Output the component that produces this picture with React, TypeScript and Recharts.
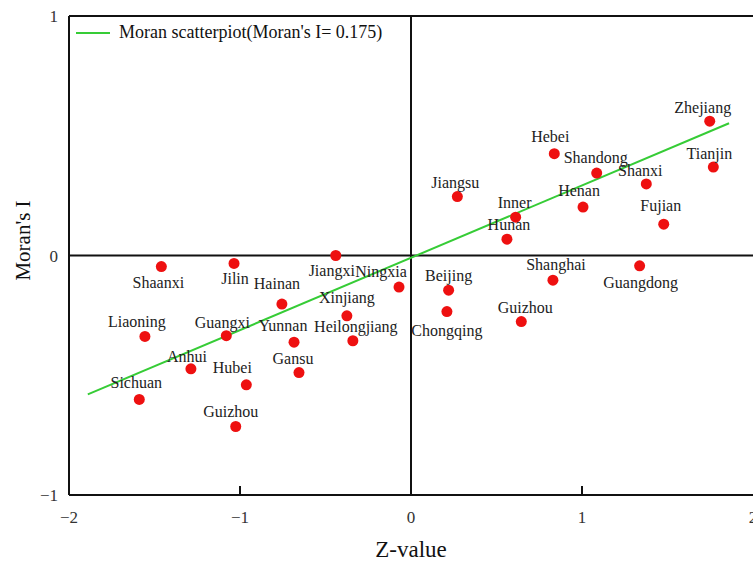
import React from "react";
import {
  ScatterChart,
  Scatter,
  XAxis,
  YAxis,
  ReferenceLine,
  Legend,
} from "recharts";

const PROVINCES = [
  "Shaanxi", "Jilin", "Jiangxi", "Ningxia", "Hainan", "Xinjiang", "Liaoning",
  "Guangxi", "Yunnan", "Heilongjiang", "Anhui", "Hubei", "Gansu", "Sichuan",
  "Guizhou", "Beijing", "Chongqing", "Guizhou", "Shanghai", "Guangdong",
  "Zhejiang", "Tianjin", "Hebei", "Shandong", "Shanxi", "Jiangsu", "Henan",
  "Fujian", "Inner", "Hunan",
];

const Z_VALUES = [
  -1.46, -1.035, -0.44, -0.07, -0.755, -0.375, -1.556,
  -1.08, -0.684, -0.34, -1.287, -0.963, -0.655, -1.589,
  -1.025, 0.22, 0.21, 0.645, 0.83, 1.337,
  1.747, 1.768, 0.838, 1.086, 1.376, 0.271, 1.006,
  1.478, 0.612, 0.561,
];

const LAG_VALUES = [
  -0.046, -0.033, 0.0, -0.132, -0.203, -0.252, -0.338,
  -0.335, -0.362, -0.356, -0.473, -0.54, -0.489, -0.601,
  -0.714, -0.145, -0.234, -0.276, -0.103, -0.043,
  0.561, 0.369, 0.425, 0.344, 0.299, 0.246, 0.202,
  0.131, 0.16, 0.068,
];

// fitted line end points
const FIT_X = [-1.89, 1.86];
const FIT_Y = [-0.58, 0.552];

const X_TICKS = [-2, -1, 0, 1, 2];
const Y_TICKS = [-1, 0, 1];

const LEGEND_LABEL = "Moran scatterpiot(Moran's I= 0.175)";

// label placement (pixels from the dot to the text centre), same order as PROVINCES
const LABEL_DX = [
  -3, 1, -4, -18, -5, 0, -8, -4, -11, 3, -4, -14, -6, -3, -5,
  0, 0, 4, 3, 1, -7, -4, -4, -1, -6, -2, -4, -3, -1, 2,
];
const LABEL_DY = [
  16, 16, 15, -15, -20, -18, -14, -13, -16, -14, -12, -17, -14, -16, -15,
  -14, 19, -14, -15, 17, -13, -13, -17, -15, -13, -14, -16, -18, -14, -14,
];

const SERIF = "'Liberation Serif', 'Times New Roman', serif";
const GREEN = "#36cc36";
const RED = "#ee1010";
const INK = "#111";

const points = PROVINCES.map((name, i) => ({
  name,
  i,
  x: Z_VALUES[i],
  y: LAG_VALUES[i],
}));

const fit = FIT_X.map((x, i) => ({ x, y: FIT_Y[i] }));

const fmt = (v: number) => (v < 0 ? `\u2212${-v}` : `${v}`);

function XTick(props: any) {
  const { x, y, payload } = props;
  const v = payload.value as number;
  const inner = v !== 0 && Math.abs(v) !== 2;
  return (
    <g>
      {inner && (
        <line x1={x} x2={x} y1={y} y2={y - 9} stroke={INK} strokeWidth={2} />
      )}
      <text
        x={x}
        y={y + 28}
        textAnchor="middle"
        fontFamily={SERIF}
        fontSize={17}
        fill="#333"
      >
        {fmt(v)}
      </text>
    </g>
  );
}

function YTick(props: any) {
  const { x, y, payload } = props;
  return (
    <text
      x={x}
      y={y + 6}
      textAnchor="end"
      fontFamily={SERIF}
      fontSize={17}
      fill="#333"
    >
      {fmt(payload.value)}
    </text>
  );
}

function ProvinceDot(props: any) {
  const { cx, cy, payload } = props;
  const i = payload.i as number;
  return (
    <g>
      <circle cx={cx} cy={cy} r={5.5} fill={RED} />
      <text
        x={cx + LABEL_DX[i]}
        y={cy + LABEL_DY[i] + 5}
        textAnchor="middle"
        fontFamily={SERIF}
        fontSize={16}
        fill="#222"
      >
        {payload.name}
      </text>
    </g>
  );
}

function LegendBox(props: any) {
  const items = (props.payload || []).filter((p: any) => p.type !== "none");
  return (
    <div style={{ fontFamily: SERIF, fontSize: 18, color: INK }}>
      {items.map((p: any) => (
        <div key={p.value} style={{ display: "flex", alignItems: "center" }}>
          <svg width={43} height={20}>
            <line x1={0} x2={34} y1={10} y2={10} stroke={GREEN} strokeWidth={2} />
          </svg>
          <span style={{ whiteSpace: "nowrap" }}>{p.value}</span>
        </div>
      ))}
    </div>
  );
}

export default function App() {
  return (
    <div style={{ position: "absolute", left: 0, top: 0, background: "#fff" }}>
      <ScatterChart
        width={753}
        height={562}
        margin={{ top: 16, right: 0, left: 20, bottom: 0 }}
      >
        <XAxis
          type="number"
          dataKey="x"
          domain={[-2, 2]}
          ticks={X_TICKS}
          interval={0}
          tickSize={0}
          tickMargin={0}
          tickLine={false}
          tick={<XTick />}
          axisLine={{ stroke: INK, strokeWidth: 2 }}
          height={67}
          label={{
            value: "Z-value",
            position: "insideBottom",
            offset: 5,
            fontFamily: SERIF,
            fontSize: 23,
            fill: INK,
          }}
        />
        <YAxis
          type="number"
          dataKey="y"
          domain={[-1, 1]}
          ticks={Y_TICKS}
          interval={0}
          tickSize={0}
          tickMargin={11}
          tickLine={false}
          tick={<YTick />}
          axisLine={{ stroke: INK, strokeWidth: 2 }}
          width={49}
          label={{
            value: "Moran's I",
            angle: -90,
            position: "insideLeft",
            offset: 3,
            dy: -15,
            style: { textAnchor: "middle" },
            fontFamily: SERIF,
            fontSize: 21,
            fill: INK,
          }}
        />
        <ReferenceLine y={1} stroke={INK} strokeWidth={2} />
        <ReferenceLine y={0} stroke={INK} strokeWidth={2} />
        <ReferenceLine x={0} stroke={INK} strokeWidth={2} />
        <Legend
          layout="horizontal"
          verticalAlign="middle"
          align="center"
          wrapperStyle={{ top: 22, left: 76, width: "auto", height: "auto" }}
          content={<LegendBox />}
        />
        <Scatter
          name={LEGEND_LABEL}
          data={fit}
          line={{ stroke: GREEN, strokeWidth: 2 }}
          shape={() => <g />}
          legendType="line"
          isAnimationActive={false}
        />
        <Scatter
          name="provinces"
          data={points}
          shape={<ProvinceDot />}
          legendType="none"
          isAnimationActive={false}
        />
      </ScatterChart>
    </div>
  );
}
